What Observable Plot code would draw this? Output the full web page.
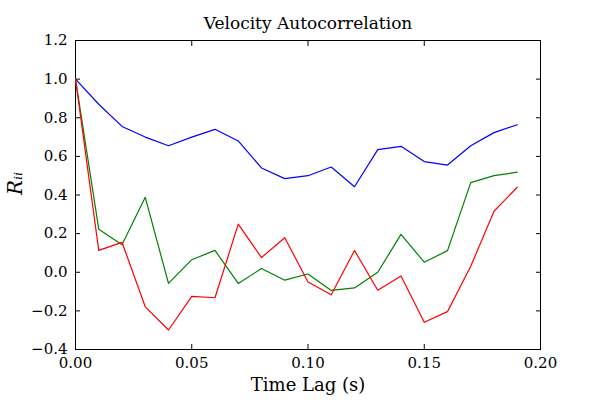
<!DOCTYPE html>
<html>
<head>
<meta charset="utf-8">
<script src="https://cdn.jsdelivr.net/npm/d3@7"></script>
<script src="https://cdn.jsdelivr.net/npm/@observablehq/plot@0.6"></script>
<style>
  body { margin: 0; background: #fff; }
  #chart { width: 600px; height: 400px; }
</style>
</head>
<body>
<div id="chart"></div>
<script>
const lags = [0, 0.01, 0.02, 0.03, 0.04, 0.05, 0.06, 0.07, 0.08, 0.09, 0.10, 0.11, 0.12, 0.13, 0.14, 0.15, 0.16, 0.17, 0.18, 0.19];
const blueSeries = [1.0, 0.87, 0.755, 0.70, 0.655, 0.70, 0.74, 0.68, 0.54, 0.485, 0.50, 0.545, 0.443, 0.635, 0.652, 0.573, 0.555, 0.655, 0.723, 0.764];
const greenSeries = [1.0, 0.223, 0.142, 0.388, -0.058, 0.065, 0.113, -0.058, 0.019, -0.041, -0.009, -0.094, -0.081, 0.0, 0.196, 0.052, 0.112, 0.464, 0.50, 0.518];
const redSeries = [1.0, 0.113, 0.155, -0.179, -0.299, -0.125, -0.132, 0.249, 0.076, 0.179, -0.05, -0.117, 0.113, -0.093, -0.019, -0.259, -0.204, 0.031, 0.316, 0.44];
const xTicks = [0, 0.05, 0.10, 0.15, 0.20];
const yTicks = [-0.4, -0.2, 0, 0.2, 0.4, 0.6, 0.8, 1.0, 1.2];

const series = [
  {name: "R11", values: blueSeries, color: "blue"},
  {name: "R22", values: greenSeries, color: "green"},
  {name: "R33", values: redSeries, color: "red"}
];
const rows = series.flatMap(s => s.values.map((v, i) => ({lag: lags[i], r: v, name: s.name})));

const serif = "'DejaVu Serif', 'Liberation Serif', serif";
const fmtX = d3.format(".2f");
const fmtY = d3.format(".1f");

const chart = Plot.plot({
  width: 600,
  height: 400,
  marginLeft: 75,
  marginRight: 60,
  marginTop: 40,
  marginBottom: 51,
  style: {fontFamily: serif, fontSize: "15px", color: "black", background: "white"},
  x: {domain: [0, 0.2]},
  y: {domain: [-0.4, 1.2]},
  color: {domain: series.map(s => s.name), range: series.map(s => s.color)},
  marks: [
    Plot.frame({stroke: "black", strokeWidth: 1}),
    Plot.axisX(xTicks, {anchor: "bottom", tickSize: -5, tickPadding: 13, tickFormat: fmtX, label: null}),
    Plot.axisX(xTicks, {anchor: "top", tickSize: -5, tickFormat: () => "", label: null}),
    Plot.axisY(yTicks, {anchor: "left", tickSize: -5, tickPadding: 13, tickFormat: fmtY, label: null}),
    Plot.axisY(yTicks, {anchor: "right", tickSize: -5, tickFormat: () => "", label: null}),
    Plot.line(rows, {x: "lag", y: "r", z: "name", stroke: "name", strokeWidth: 1.2}),
    Plot.text(["Velocity Autocorrelation"], {frameAnchor: "top", dy: -24, fontSize: 17, text: d => d}),
    Plot.text(["Time Lag (s)"], {frameAnchor: "bottom", dy: 41, fontSize: 18, text: d => d}),
    Plot.text(["Rᵢᵢ"], {frameAnchor: "left", dx: -60, rotate: -90, fontSize: 20, fontStyle: "italic", text: d => d})
  ]
});
document.getElementById("chart").appendChild(chart);
</script>
</body>
</html>
